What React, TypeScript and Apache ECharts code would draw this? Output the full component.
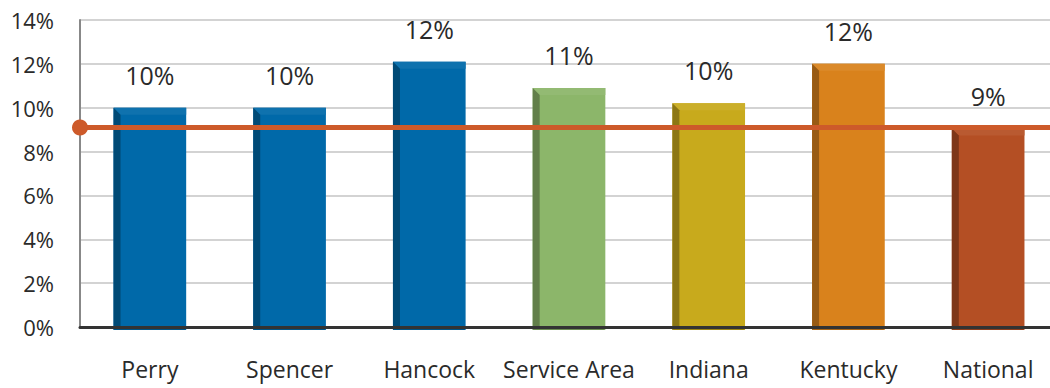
import React, { useEffect, useRef } from "react";
import * as echarts from "echarts";

const categories = ["Perry", "Spencer", "Hancock", "Service Area", "Indiana", "Kentucky", "National"];
const values = [10.0, 10.0, 12.1, 10.9, 10.2, 12.0, 9.05];
const labels = ["10%", "10%", "12%", "11%", "10%", "12%", "9%"];
const barColors = ["#0069A9", "#0069A9", "#0069A9", "#8CB66A", "#C8AA1C", "#D9821C", "#B44F24"];
const nationalLine = 9.1;
const yTicks = [0, 2, 4, 6, 8, 10, 12, 14];

function shade(hex: string, f: number): string {
  const n = parseInt(hex.slice(1), 16);
  let r = (n >> 16) & 255, g = (n >> 8) & 255, b = n & 255;
  if (f < 0) {
    r = Math.round(r * (1 + f)); g = Math.round(g * (1 + f)); b = Math.round(b * (1 + f));
  } else {
    r = Math.round(r + (255 - r) * f); g = Math.round(g + (255 - g) * f); b = Math.round(b + (255 - b) * f);
  }
  return "rgb(" + r + "," + g + "," + b + ")";
}

export default function App() {
  const ref = useRef<HTMLDivElement>(null);
  useEffect(() => {
    if (!ref.current) return;
    const chart = echarts.init(ref.current, null, { renderer: "svg" });
    const font = "'Open Sans', 'Noto Sans', sans-serif";
    chart.setOption({
      animation: false,
      grid: { left: 80, top: 20, width: 978, height: 307 },
      xAxis: {
        type: "category",
        data: categories,
        axisTick: { show: false },
        axisLine: { show: true, lineStyle: { color: "#333", width: 3 } },
        axisLabel: { color: "#2a2a2a", fontSize: 23, fontFamily: font, margin: 30, interval: 0 },
        z: 10,
      },
      yAxis: {
        type: "value",
        min: 0,
        max: 14,
        interval: 2,
        axisLine: { show: true, lineStyle: { color: "#888", width: 2 } },
        axisTick: { show: false },
        splitLine: { lineStyle: { color: "#c4c4c4", width: 1.5 } },
        axisLabel: {
          color: "#2a2a2a",
          fontSize: 22,
          fontFamily: font,
          margin: 26,
          formatter: (v: number) => (yTicks.includes(v) ? v + "%" : ""),
        },
      },
      series: [
        {
          type: "custom",
          data: values.map((v, i) => [i, v]),
          z: 3,
          renderItem: (params: any, api: any) => {
            const idx = api.value(0);
            const v = api.value(1);
            const top = api.coord([idx, v]);
            const bottom = api.coord([idx, 0]);
            const bw = api.size([1, 0])[0] * 0.52;
            const x0 = top[0] - bw / 2;
            const x1 = top[0] + bw / 2;
            const y0 = top[1];
            const y1 = bottom[1] + 3;
            const d = 7;
            const c = barColors[idx];
            return {
              type: "group",
              children: [
                { type: "rect", shape: { x: x0, y: y0, width: bw, height: y1 - y0 }, style: { fill: c } },
                {
                  type: "polygon",
                  shape: { points: [[x0, y0], [x1, y0], [x1, y0 + d], [x0 + d, y0 + d]] },
                  style: { fill: shade(c, 0.06) },
                },
                {
                  type: "polygon",
                  shape: { points: [[x0, y0], [x0 + d, y0 + d], [x0 + d, y1 - 4], [x0, y1]] },
                  style: { fill: shade(c, -0.3) },
                },
                {
                  type: "polygon",
                  shape: { points: [[x0, y1], [x0 + d, y1 - 4], [x1 - d, y1 - 4], [x1, y1]] },
                  style: { fill: shade(c, -0.22) },
                },
                {
                  type: "text",
                  style: {
                    text: labels[idx],
                    x: top[0],
                    y: y0 - 33,
                    textAlign: "center",
                    textVerticalAlign: "middle",
                    fontSize: 25,
                    fontFamily: font,
                    fill: "#2a2a2a",
                  },
                },
              ],
            };
          },
          markLine: {
            silent: true,
            symbol: ["circle", "none"],
            symbolSize: 16,
            label: { show: false },
            lineStyle: { color: "#CD5A2A", width: 5, type: "solid" },
            itemStyle: { color: "#CD5A2A" },
            data: [{ yAxis: nationalLine }],
            z: 5,
          },
        },
      ],
    });
    return () => chart.dispose();
  }, []);
  return (
    <div
      ref={ref}
      style={{ position: "fixed", left: 0, top: 0, width: 1062, height: 388, background: "#fff" }}
    />
  );
}
